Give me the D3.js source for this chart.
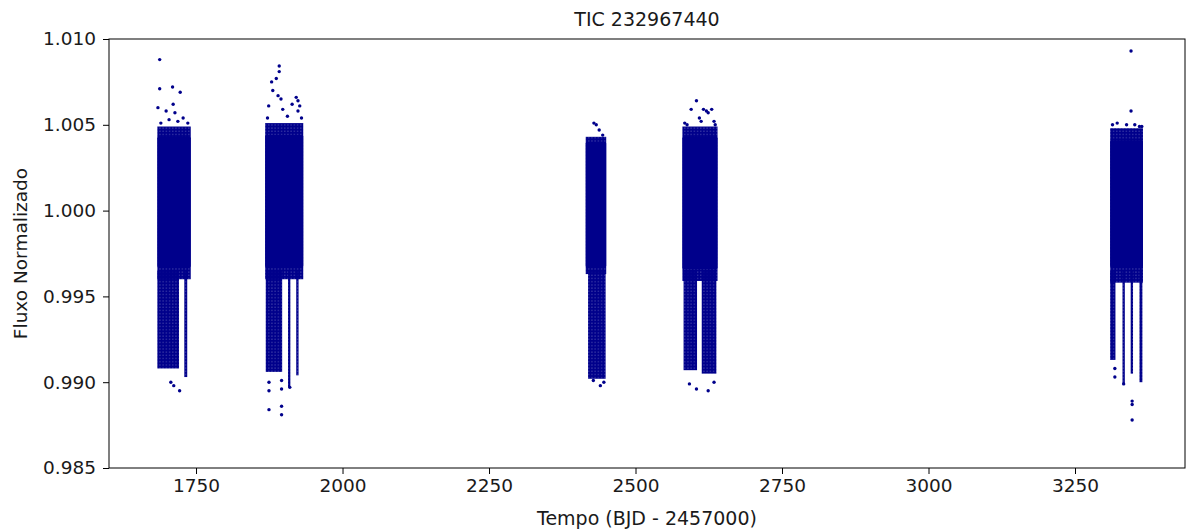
<!DOCTYPE html>
<html>
<head>
<meta charset="utf-8">
<script src="https://cdn.jsdelivr.net/npm/d3@7"></script>
<style>
  body { margin: 0; background: #fff; }
  svg { display: block; font-family: "DejaVu Sans", sans-serif; }
</style>
</head>
<body>
<svg id="chart"></svg>
<script>
// observation blocks (BJD - 2457000) and the dense flux core of each block
const blockNames = ["S14-15", "S21-22", "S41", "S47-48", "S74-75"];
const blockStart = [1684, 1868, 2415, 2580, 3310];
const blockEnd   = [1741, 1933, 2450, 2640, 3366];
const coreLow    = [0.9967, 0.9967, 0.9967, 0.9966, 0.9967];
const coreHigh   = [1.0043, 1.0044, 1.0040, 1.0043, 1.0041];
const fringeLow  = [0.9960, 0.9960, 0.9963, 0.9959, 0.9958];
const fringeHigh = [1.0049, 1.0051, 1.0043, 1.0049, 1.0048];

// low-flux tails below the core: [t0, t1, fluxBottom]
const tailPatches = [
  [1684, 1721, 0.9908],
  [1869, 1897, 0.9906],
  [2419, 2449, 0.9902],
  [2582, 2605, 0.9907],
  [2613, 2638, 0.9905],
  [3310, 3319, 0.9913]
];
const tailColumns = [
  [1730, 1735, 0.9903],
  [1907, 1911, 0.9897],
  [1921, 1925, 0.9904],
  [3331, 3335, 0.9899],
  [3345, 3349, 0.9905],
  [3360, 3365, 0.9900]
];
const tailTop = 0.9965;

// isolated points
const outlierTime = [
  1688, 1688, 1710, 1723, 1685, 1699, 1711, 1714, 1690, 1704, 1719, 1736, 1728,
  1707, 1712, 1722,
  1892, 1892, 1887, 1879, 1881, 1874, 1890, 1895, 1921, 1924, 1914, 1898, 1924, 1927, 1872, 1906, 1930,
  1874.5, 1874.5, 1896, 1896, 1910, 1874.5, 1896, 1896,
  2429, 2433, 2438, 2444,
  2440, 2428, 2446,
  2604, 2595, 2616, 2621, 2624, 2630, 2609, 2588, 2634, 2636, 2584, 2612,
  2592, 2604, 2624, 2634,
  3345.6, 3345.6, 3338, 3360, 3314, 3322, 3352, 3364,
  3318, 3318, 3333, 3347.5, 3347.5, 3347.5
];
const outlierFlux = [
  1.0088, 1.0071, 1.0072, 1.0069, 1.0060, 1.0058, 1.0062, 1.0057, 1.0051, 1.0053, 1.0052, 1.0051, 1.0054,
  0.9900, 0.9898, 0.9895,
  1.00843, 1.0081, 1.0077, 1.0075, 1.0070, 1.0061, 1.0067, 1.0065, 1.0066, 1.0064, 1.0062, 1.0059, 1.0058, 1.0061, 1.0054, 1.0055, 1.0054,
  0.9900, 0.9895, 0.9901, 0.9896, 0.9897, 0.9884, 0.9886, 0.9881,
  1.0051, 1.0050, 1.0047, 1.0044,
  0.9898, 0.9901, 0.9900,
  1.0064, 1.0059, 1.0059, 1.0058, 1.0057, 1.0059, 1.0054, 1.0050, 1.0052, 1.0050, 1.0051, 1.0052,
  0.9899, 0.9896, 0.9895, 0.9900,
  1.0093, 1.0058, 1.0050, 1.0049, 1.0050, 1.0051, 1.0050, 1.0049,
  0.9908, 0.9903, 0.9899, 0.9889, 0.9887, 0.9878
];

const xTicks = [1750, 2000, 2250, 2500, 2750, 3000, 3250];
const yTicks = [0.985, 0.990, 0.995, 1.000, 1.005, 1.010];

const width = 1192, height = 530;
const margin = { top: 39, right: 7, bottom: 62, left: 109 };
const color = "#00008b";
const fontSize = 18.5;

const svg = d3.select("#chart").attr("width", width).attr("height", height);

// dotted texture for the sparser parts of the cloud
const pat = svg.append("defs").append("pattern")
  .attr("id", "dots").attr("patternUnits", "userSpaceOnUse")
  .attr("width", 3.2).attr("height", 3.2);
pat.append("circle").attr("cx", 1.6).attr("cy", 1.6).attr("r", 1.9).attr("fill", color);

const x = d3.scaleLinear().domain([1601.5, 3437.7]).range([margin.left, width - margin.right]);
const y = d3.scaleLinear().domain([0.985, 1.010]).range([height - margin.bottom, margin.top]);

const plot = svg.append("g");

const blocks = blockNames.map((name, i) => ({
  name, t0: blockStart[i], t1: blockEnd[i],
  lo: coreLow[i], hi: coreHigh[i], flo: fringeLow[i], fhi: fringeHigh[i]
}));

// fuzzy fringe around the dense core
plot.selectAll("rect.fringe")
  .data(blocks)
  .join("rect")
  .attr("class", "fringe")
  .attr("x", d => x(d.t0))
  .attr("width", d => x(d.t1) - x(d.t0))
  .attr("y", d => y(d.fhi))
  .attr("height", d => y(d.flo) - y(d.fhi))
  .attr("fill", "url(#dots)");

// dense core
plot.selectAll("rect.core")
  .data(blocks)
  .join("rect")
  .attr("class", "core")
  .attr("x", d => x(d.t0))
  .attr("width", d => x(d.t1) - x(d.t0))
  .attr("y", d => y(d.hi))
  .attr("height", d => y(d.lo) - y(d.hi))
  .attr("rx", 1.5)
  .attr("fill", color);

// tails
plot.selectAll("rect.tail")
  .data(tailPatches.concat(tailColumns))
  .join("rect")
  .attr("class", "tail")
  .attr("x", d => x(d[0]))
  .attr("width", d => x(d[1]) - x(d[0]))
  .attr("y", y(tailTop))
  .attr("height", d => y(d[2]) - y(tailTop))
  .attr("fill", "url(#dots)");

// outliers
plot.selectAll("circle")
  .data(d3.zip(outlierTime, outlierFlux))
  .join("circle")
  .attr("cx", d => x(d[0]))
  .attr("cy", d => y(d[1]))
  .attr("r", 1.7)
  .attr("fill", color);

// axes
const xAxis = svg.append("g")
  .attr("transform", `translate(0,${height - margin.bottom})`)
  .call(d3.axisBottom(x).tickValues(xTicks).tickSize(6).tickPadding(5).tickFormat(d3.format("d")));
const yAxis = svg.append("g")
  .attr("transform", `translate(${margin.left},0)`)
  .call(d3.axisLeft(y).tickValues(yTicks).tickSize(6).tickPadding(7).tickFormat(d3.format(".3f")));

[xAxis, yAxis].forEach(a => {
  a.select(".domain").remove();
  a.selectAll("line").attr("stroke", "#000").attr("stroke-width", 1);
  a.selectAll("text").attr("font-size", fontSize).attr("fill", "#1a1a1a")
    .attr("font-family", "DejaVu Sans, sans-serif");
});

// frame
svg.append("rect")
  .attr("x", margin.left).attr("y", margin.top)
  .attr("width", width - margin.left - margin.right)
  .attr("height", height - margin.top - margin.bottom)
  .attr("fill", "none").attr("stroke", "#000").attr("stroke-width", 1);

// labels
svg.append("text")
  .attr("x", (margin.left + width - margin.right) / 2)
  .attr("y", 525)
  .attr("text-anchor", "middle")
  .attr("font-size", 19).attr("fill", "#1a1a1a")
  .text("Tempo (BJD - 2457000)");

svg.append("text")
  .attr("transform", `translate(27,${(margin.top + height - margin.bottom) / 2}) rotate(-90)`)
  .attr("text-anchor", "middle")
  .attr("font-size", fontSize).attr("fill", "#1a1a1a")
  .text("Fluxo Normalizado");

svg.append("text")
  .attr("x", (margin.left + width - margin.right) / 2)
  .attr("y", 26)
  .attr("text-anchor", "middle")
  .attr("font-size", 19).attr("fill", "#1a1a1a")
  .text("TIC 232967440");
</script>
</body>
</html>
